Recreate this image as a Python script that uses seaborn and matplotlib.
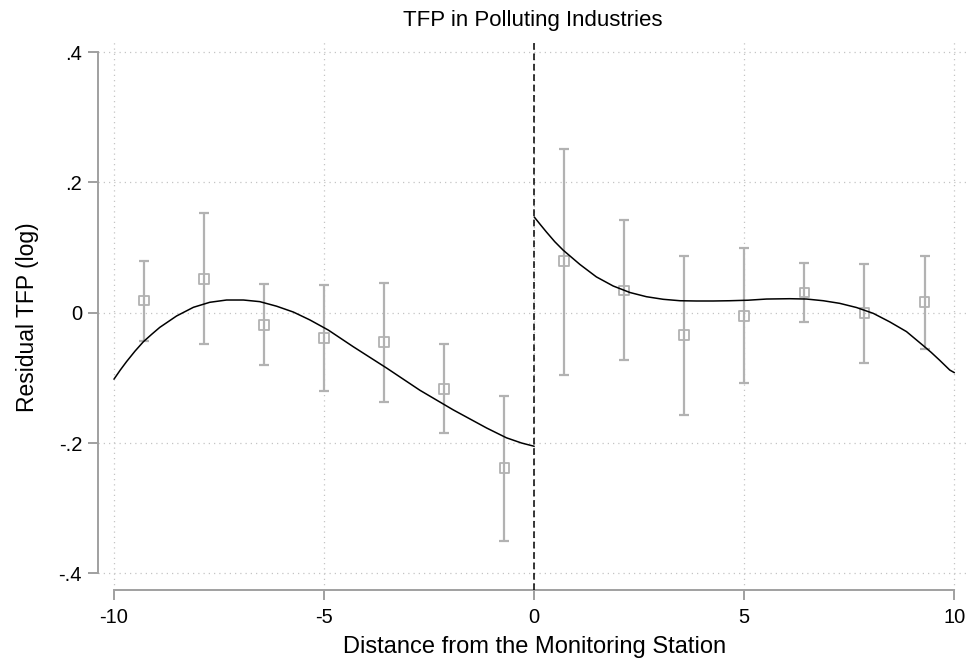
import numpy as np
import pandas as pd
import matplotlib
matplotlib.use("Agg")
import matplotlib.pyplot as plt
import seaborn as sns

# ---- data ----
bin_x_left = [-9.29, -7.86, -6.43, -5.00, -3.57, -2.14, -0.71]
bin_y_left = [0.019, 0.052, -0.019, -0.039, -0.045, -0.117, -0.238]
bin_hi_left = [0.080, 0.153, 0.044, 0.042, 0.046, -0.048, -0.128]
bin_lo_left = [-0.044, -0.048, -0.080, -0.120, -0.137, -0.185, -0.350]

bin_x_right = [0.71, 2.14, 3.57, 5.00, 6.43, 7.86, 9.29]
bin_y_right = [0.079, 0.034, -0.034, -0.005, 0.031, 0.000, 0.016]
bin_hi_right = [0.252, 0.142, 0.087, 0.099, 0.077, 0.075, 0.087]
bin_lo_right = [-0.095, -0.072, -0.157, -0.108, -0.015, -0.077, -0.055]

fit_x_left = [-10.0, -9.85, -9.70, -9.50, -9.30, -9.10, -8.91, -8.51, -8.11, -7.72, -7.32, -6.92, -6.53,
              -6.13, -5.73, -5.34, -4.90, -4.31, -3.51, -2.72, -1.93, -1.13, -0.66, -0.30, 0.0]
fit_y_left = [-0.102, -0.088, -0.075, -0.059, -0.0445, -0.033, -0.0225, -0.005, 0.0083, 0.016, 0.0195, 0.0195, 0.017,
              0.010, 0.001, -0.011, -0.0266, -0.052, -0.085, -0.119, -0.149, -0.177, -0.192, -0.200, -0.205]

fit_x_right = [0.0, 0.15, 0.29, 0.49, 0.69, 0.89, 1.09, 1.48, 1.88, 2.28, 2.67, 3.07, 3.47, 3.86, 4.26, 4.66,
               5.09, 5.53, 6.08, 6.48, 6.88, 7.27, 7.67, 8.07, 8.46, 8.86, 9.25, 9.45, 9.65, 9.89, 10.0]
fit_y_right = [0.147, 0.135, 0.124, 0.109, 0.096, 0.085, 0.074, 0.055, 0.041, 0.031, 0.0246, 0.0206, 0.0184, 0.018,
               0.018, 0.0184, 0.0192, 0.021, 0.0215, 0.021, 0.0184, 0.0144, 0.008, -0.001,
               -0.014, -0.029, -0.050, -0.061, -0.073, -0.088, -0.092]

x_ticks = [-10, -5, 0, 5, 10]
x_tick_labels = ["-10", "-5", "0", "5", "10"]
y_ticks = [-0.4, -0.2, 0.0, 0.2, 0.4]
y_tick_labels = ["-.4", "-.2", "0", ".2", ".4"]

title = "TFP in Polluting Industries"
xlabel = "Distance from the Monitoring Station"
ylabel = "Residual TFP (log)"

# ---- style ----
sns.set_style("white")
plt.rcParams["font.family"] = ["Liberation Sans", "DejaVu Sans"]
plt.rcParams["text.color"] = "black"
plt.rcParams["axes.labelcolor"] = "black"

GRAY = "#b2b2b2"
AXGRAY = "#a0a0a0"

fig = plt.figure(figsize=(9.69, 6.67), dpi=100)
ax = fig.add_axes([98 / 969, 1 - 590 / 667, (967 - 98) / 969, 550 / 667])

bins = pd.DataFrame({
    "x": bin_x_left + bin_x_right,
    "y": bin_y_left + bin_y_right,
    "hi": bin_hi_left + bin_hi_right,
    "lo": bin_lo_left + bin_lo_right,
})

# grid
for xt in x_ticks:
    ax.axvline(xt, color="#c4c4c4", lw=0.9, ls=(0, (1, 3.2)), zorder=0)
for yt in y_ticks:
    ax.axhline(yt, color="#c4c4c4", lw=0.9, ls=(0, (1, 3.2)), zorder=0)

# error bars
ax.errorbar(bins["x"], bins["y"],
            yerr=[bins["y"] - bins["lo"], bins["hi"] - bins["y"]],
            fmt="none", ecolor=GRAY, elinewidth=1.6, capsize=3.4, capthick=1.6, zorder=2)
sns.scatterplot(data=bins, x="x", y="y", marker="s", s=48, facecolors="none",
                edgecolor=GRAY, linewidth=1.3, ax=ax, zorder=3)

# fitted curves
left = pd.DataFrame({"x": fit_x_left, "y": fit_y_left})
right = pd.DataFrame({"x": fit_x_right, "y": fit_y_right})
sns.lineplot(data=left, x="x", y="y", color="black", lw=1.1, sort=True, ax=ax, zorder=4)
sns.lineplot(data=right, x="x", y="y", color="black", lw=1.1, sort=True, ax=ax, zorder=4)

ax.axvline(0, color="black", lw=1.1, ls=(0, (4.4, 2.4)), zorder=5)

ax.set_xlim(-10.38, 10.3)
ax.set_ylim(-0.4256, 0.4186)

ax.set_xticks(x_ticks)
ax.set_xticklabels(x_tick_labels)
ax.set_yticks(y_ticks)
ax.set_yticklabels(y_tick_labels)

for s in ["top", "right"]:
    ax.spines[s].set_visible(False)
for s in ["left", "bottom"]:
    ax.spines[s].set_color(AXGRAY)
    ax.spines[s].set_linewidth(1.4)
ax.spines["left"].set_bounds(-0.4, 0.4)
ax.spines["bottom"].set_bounds(-10, 10)

ax.tick_params(axis="both", direction="out", width=1.4, color=AXGRAY,
               labelsize=14.5, labelcolor="black")
ax.tick_params(axis="x", bottom=True, length=7, pad=6)
ax.tick_params(axis="y", left=True, length=7.5, pad=4)

ax.set_xlabel(xlabel, fontsize=17)
ax.set_ylabel(ylabel, fontsize=16.5)
ax.xaxis.set_label_coords(0.5 + (535 - 532.5) / 869, (590 - 636) / 550)
ax.yaxis.set_label_coords((39 - 98) / 869, 0.5 + (313 - 315) / 550)
ax.set_title(title, fontsize=16, pad=10)
ax.set_facecolor("white")

fig.savefig("out.png", dpi=100, facecolor="white")
